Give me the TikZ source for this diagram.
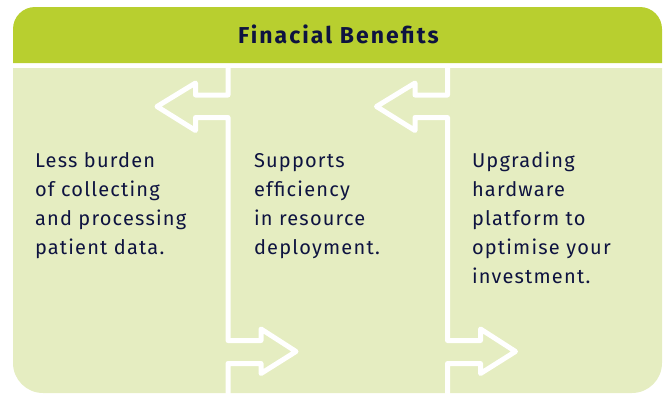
\documentclass[tikz,border=0pt]{standalone}
\usepackage{xcolor}
\usepackage{fontspec}
\setmainfont{Fira Sans}
\newfontfamily\bodyfont[LetterSpace=6]{Fira Sans}
\newfontfamily\headfont[LetterSpace=9]{Fira Sans Bold}
\usepackage{tikz}

\definecolor{headgreen}{HTML}{B8CF2F}
\definecolor{bodygreen}{HTML}{E5EDC1}
\definecolor{inkblue}{HTML}{0E1340}

\begin{document}
\begin{tikzpicture}[x=1pt, y=-1pt, line width=5pt]
    \tikzstyle{sep}=[draw=white, line join=round]
    \tikzstyle{txt}=[anchor=base west, inner sep=0, align=left, text=inkblue,
        font=\bodyfont\fontsize{20}{29}\selectfont]
    \useasboundingbox (0,0) rectangle (670,394);

    % header and body
    \fill[headgreen] (13,63) [rounded corners=22] -- (13,7) -- (662,7) [sharp corners] -- (662,63) -- cycle;
    \fill[bodygreen] (13,68) [rounded corners=30] -- (13,393) -- (662,393) [sharp corners] -- (662,68) -- cycle;
    \node[anchor=base, inner sep=0, text=inkblue, font=\headfont\fontsize{23}{28}\selectfont] (title) at (338.5,43.3) {Finacial Benefits};

    % white separators with arrows
    \draw[sep] (228,66) -- (228,95) -- (195.5,95) -- (195.5,83) -- (157,106.5) -- (195.5,130.5) -- (195.5,117.5)
        -- (228,117.5) -- (228,340.5) -- (261,340.5) -- (261,329) -- (296,351.5) -- (261,373.5) -- (261,363.5)
        -- (228,363.5) -- (228,396);
    \draw[sep] (447.5,66) -- (447.5,95) -- (415,95) -- (415,83) -- (376.5,106.5) -- (415,130.5) -- (415,117.5)
        -- (447.5,117.5) -- (447.5,340.5) -- (480.5,340.5) -- (480.5,329) -- (515.5,351.5) -- (480.5,373.5) -- (480.5,363.5)
        -- (447.5,363.5) -- (447.5,396);

    % texts (anchored at the baseline of the last line)
    \node[txt] (less) at (32.5,254) {Less burden\\of collecting\\and processing\\patient data.};
    \node[txt] (supports) at (251.5,254) {Supports\\efficiency\\in resource\\deployment.};
    \node[txt] (upgrading) at (469.5,283) {Upgrading\\hardware\\platform to\\optimise your\\investment.};
\end{tikzpicture}
\end{document}
